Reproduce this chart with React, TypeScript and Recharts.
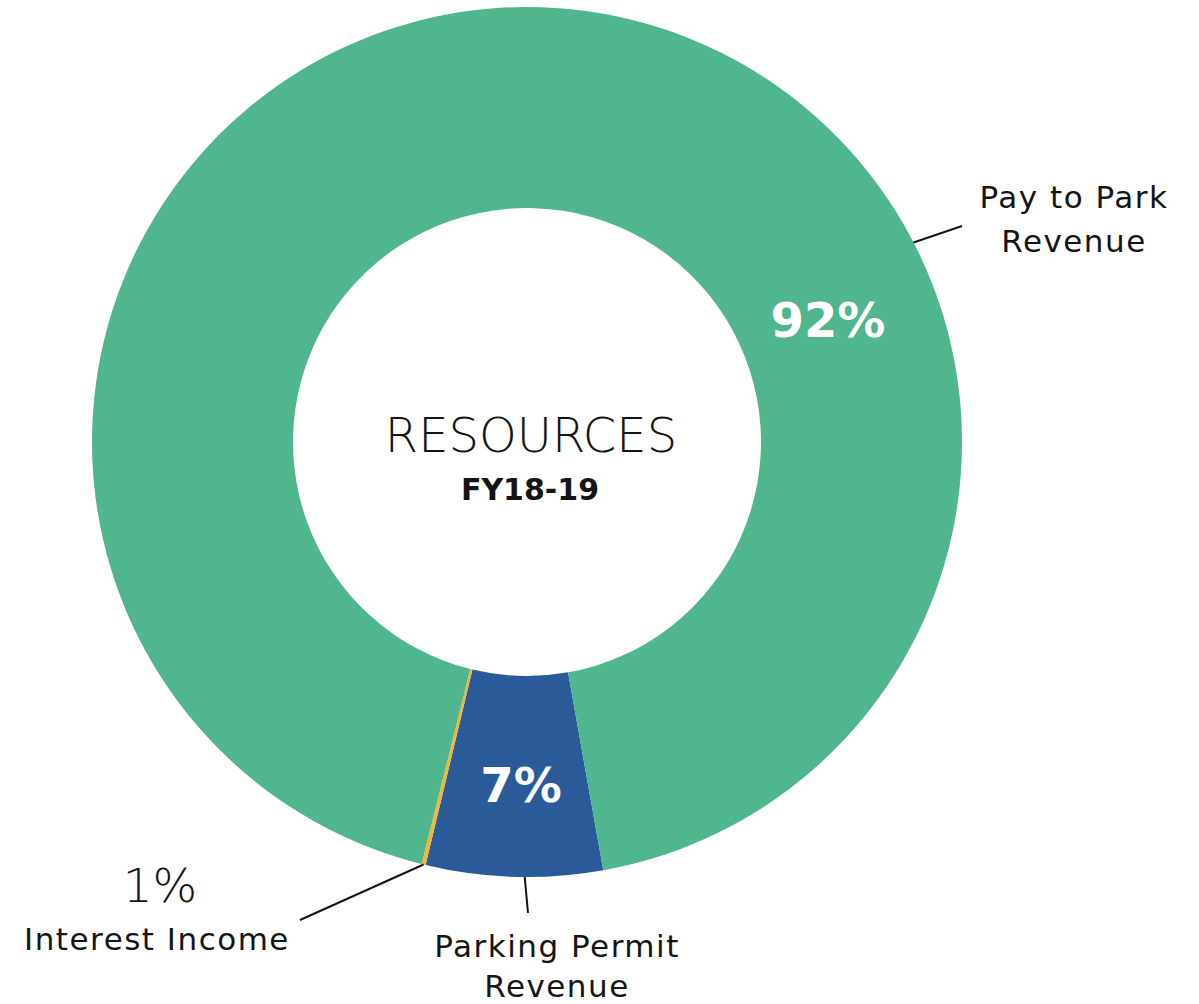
import React from 'react';
import { PieChart, Pie, Cell } from 'recharts';

// ---- data ----
const categories = ['Parking Permit Revenue', 'Interest Income', 'Pay to Park Revenue'];
const shares = [6.55, 0.15, 93.3];
const shareLabels = ['7%', '1%', '92%'];
const nameLines = [['Parking Permit', 'Revenue'], ['Interest Income'], ['Pay to Park', 'Revenue']];
const colors = ['#2A5B98', '#F4B636', '#50B68E'];
const centerTitle = 'RESOURCES';
const centerSubtitle = 'FY18-19';

const data = categories.map((name, i) => ({ name, value: shares[i] }));

// ---- annotation layout (offsets from the pie centre) ----
const FONT = '"DejaVu Sans", Verdana, sans-serif';
const INK = '#141414';
const layout = [
  {
    pct: { dx: -6, dy: 360, size: 48, weight: 700, fill: '#ffffff' },
    lineAngle: 269.7 as number | null,
    lineEnd: [1, 471],
    name: { dx: 30, dy: [515, 555] },
  },
  {
    pct: { dx: -367, dy: 460, size: 47, weight: 300, fill: INK },
    lineAngle: null as number | null,
    lineEnd: [-227, 478],
    name: { dx: -370, dy: [508] },
  },
  {
    pct: { dx: 301, dy: -105, size: 48, weight: 700, fill: '#ffffff' },
    lineAngle: 27.3 as number | null,
    lineEnd: [435, -216],
    name: { dx: 547, dy: [-234, -190] },
  },
];

const RAD = Math.PI / 180;

function renderLabel(props: any) {
  const { cx, cy, outerRadius, midAngle, index } = props;
  const L = layout[index];
  const ang = L.lineAngle == null ? midAngle : L.lineAngle;
  const x1 = cx + outerRadius * Math.cos(-ang * RAD);
  const y1 = cy + outerRadius * Math.sin(-ang * RAD);
  return (
    <g key={`lab-${index}`}>
      <line x1={x1} y1={y1} x2={cx + L.lineEnd[0]} y2={cy + L.lineEnd[1]} stroke={INK} strokeWidth={2} />
      <text
        x={cx + L.pct.dx}
        y={cy + L.pct.dy}
        textAnchor="middle"
        fontFamily={FONT}
        fontSize={L.pct.size}
        fontWeight={L.pct.weight}
        fill={L.pct.fill}
      >
        {shareLabels[index]}
      </text>
      {nameLines[index].map((t, j) => (
        <text
          key={j}
          x={cx + L.name.dx}
          y={cy + L.name.dy[j]}
          textAnchor="middle"
          fontFamily={FONT}
          fontSize={31}
          letterSpacing={1.5}
          fill={INK}
        >
          {t}
        </text>
      ))}
      {index === 2 && (
        <g>
          <text x={cx + 4} y={cy + 10} textAnchor="middle" fontFamily={FONT} fontSize={48} fontWeight={300} fill={INK}>
            {centerTitle}
          </text>
          <text x={cx + 3} y={cy + 58} textAnchor="middle" fontFamily={FONT} fontSize={30} fontWeight={700} fill={INK}>
            {centerSubtitle}
          </text>
        </g>
      )}
    </g>
  );
}

export default function App() {
  return (
    <div style={{ position: 'absolute', left: 0, top: 0, width: 1199, height: 1004, background: '#fff' }}>
      <PieChart width={1199} height={1004} margin={{ top: 0, right: 0, bottom: 0, left: 0 }}>
        <Pie
          data={data}
          dataKey="value"
          nameKey="name"
          cx={527}
          cy={442}
          innerRadius={234}
          outerRadius={435}
          startAngle={280.1}
          endAngle={-79.9}
          paddingAngle={0}
          stroke="none"
          label={renderLabel}
          labelLine={false}
          isAnimationActive={false}
        >
          {data.map((d, i) => (
            <Cell key={d.name} fill={colors[i]} />
          ))}
        </Pie>
      </PieChart>
    </div>
  );
}
